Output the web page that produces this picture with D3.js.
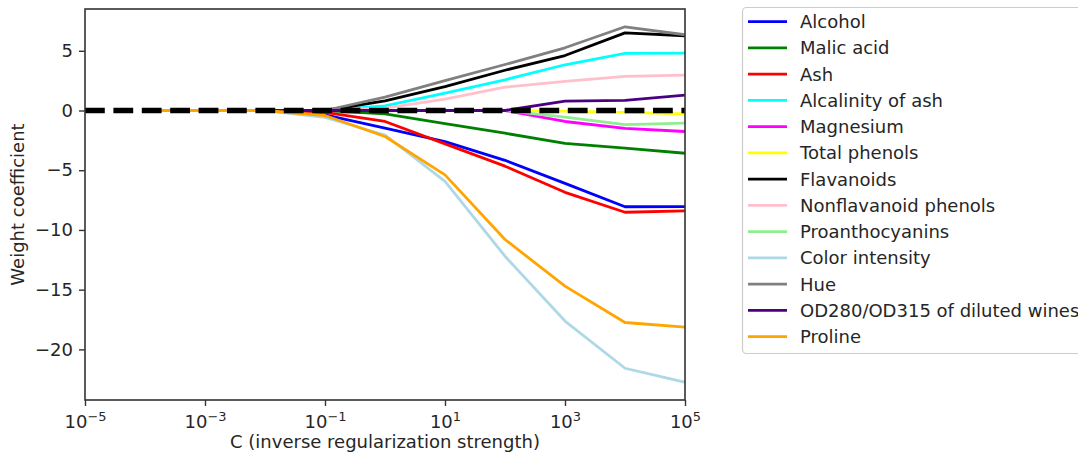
<!DOCTYPE html>
<html><head><meta charset="utf-8">
<script src="https://cdn.jsdelivr.net/npm/d3@7"></script>
<style>
body{margin:0;background:#fff}
svg{display:block}
text{font-family:"DejaVu Sans",sans-serif;fill:#262626}
</style>
</head><body>
<svg id="chart" width="1078" height="455"></svg>
<script>
// inverse regularization strengths C = 10^-4 ... 10^5
const cValues = [1e-4, 1e-3, 1e-2, 1e-1, 1e0, 1e1, 1e2, 1e3, 1e4, 1e5];
const featureNames = ["Alcohol", "Malic acid", "Ash", "Alcalinity of ash", "Magnesium",
  "Total phenols", "Flavanoids", "Nonflavanoid phenols", "Proanthocyanins",
  "Color intensity", "Hue", "OD280/OD315 of diluted wines", "Proline"];
const featureColors = ["blue", "green", "red", "cyan", "magenta", "yellow", "black",
  "pink", "lightgreen", "lightblue", "gray", "indigo", "orange"];
const alcohol        = [0, 0, 0, -0.36, -1.47, -2.60, -4.17, -6.10, -8.06, -8.04];
const malicAcid      = [0, 0, 0, 0, -0.28, -1.10, -1.90, -2.76, -3.15, -3.58];
const ash            = [0, 0, 0, -0.15, -0.92, -2.79, -4.66, -6.85, -8.52, -8.40];
const alcalinity     = [0, 0, 0, 0, 0.39, 1.45, 2.57, 3.83, 4.78, 4.80];
const magnesium      = [0, 0, 0, 0, 0, 0, 0, -0.92, -1.50, -1.76];
const totalPhenols   = [0, 0, 0, 0, 0, 0, 0, -0.05, -0.15, -0.28];
const flavanoids     = [0, 0, 0, 0, 0.81, 2.00, 3.37, 4.60, 6.50, 6.26];
const nonflavanoid   = [0, 0, 0, 0, 0.20, 0.95, 1.95, 2.43, 2.85, 2.96];
const proanthocyanins= [0, 0, 0, 0, 0, 0, 0, -0.55, -1.18, -1.06];
const colorIntensity = [0, 0, 0, -0.58, -2.05, -5.94, -12.20, -17.63, -21.58, -22.75];
const hue            = [0, 0, 0, 0, 1.12, 2.50, 3.85, 5.25, 7.01, 6.34];
const od280          = [0, 0, 0, 0, 0, 0, 0, 0.78, 0.85, 1.28];
const proline        = [0, 0, 0, -0.42, -2.18, -5.39, -10.80, -14.70, -17.75, -18.14];
const weights = [alcohol, malicAcid, ash, alcalinity, magnesium, totalPhenols, flavanoids,
  nonflavanoid, proanthocyanins, colorIntensity, hue, od280, proline];
const xTickExps = [-5, -3, -1, 1, 3, 5];
const yTicks = [5, 0, -5, -10, -15, -20];

const svg = d3.select("#chart");
const L = 85, R = 685, T = 9, B = 400;
const FS = 18;

const x = d3.scaleLog().domain([1e-5, 1e5]).range([L, R]);
const all = weights.flat();
const lo = d3.min(all), hi = d3.max(all), pad = 0.05 * (hi - lo);
const y = d3.scaleLinear().domain([lo - pad, hi + pad]).range([B, T]);

svg.append("defs").append("clipPath").attr("id", "plotclip")
  .append("rect").attr("x", L).attr("y", T).attr("width", R - L).attr("height", B - T);

const plot = svg.append("g").attr("clip-path", "url(#plotclip)");
const line = d3.line().x((d, i) => x(cValues[i])).y(d => y(d));
weights.forEach((w, k) => {
  plot.append("path").datum(w).attr("d", line)
    .attr("fill", "none").attr("stroke", featureColors[k])
    .attr("stroke-width", 2.8).attr("stroke-linejoin", "round").attr("stroke-linecap", "square");
});
plot.append("line").attr("x1", L).attr("x2", R).attr("y1", y(0)).attr("y2", y(0))
  .attr("stroke", "black").attr("stroke-width", 5.5).attr("stroke-dasharray", "19.8 8.6");

// axes
const xAxis = d3.axisBottom(x).tickValues(xTickExps.map(e => Math.pow(10, e)))
  .tickSize(6).tickPadding(6).tickFormat("");
const gx = svg.append("g").attr("transform", `translate(0,${B})`).call(xAxis);
gx.select(".domain").remove();
gx.selectAll(".tick line").attr("stroke", "#333").attr("stroke-width", 1.4);
gx.selectAll(".tick").each(function(d) {
  const e = Math.round(Math.log10(d));
  const t = d3.select(this).append("text").attr("y", 28).attr("text-anchor", "middle")
    .style("font-size", FS + "px");
  t.append("tspan").text("10");
  t.append("tspan").attr("dy", -7).style("font-size", (FS * 0.72) + "px")
    .text((e < 0 ? "\u2212" : "") + Math.abs(e));
});

const yAxis = d3.axisLeft(y).tickValues(yTicks).tickSize(6).tickPadding(6)
  .tickFormat(d => d < 0 ? "\u2212" + Math.abs(d) : String(d));
const gy = svg.append("g").attr("transform", `translate(${L},0)`).call(yAxis);
gy.select(".domain").remove();
gy.selectAll(".tick line").attr("stroke", "#333").attr("stroke-width", 1.4);
gy.selectAll(".tick text").style("font-size", FS + "px").attr("fill", "#262626")
  .style("font-family", '"DejaVu Sans",sans-serif');

svg.append("rect").attr("x", L).attr("y", T).attr("width", R - L).attr("height", B - T)
  .attr("fill", "none").attr("stroke", "#333").attr("stroke-width", 1.6);

svg.append("text").attr("x", (L + R) / 2).attr("y", 448).attr("text-anchor", "middle")
  .style("font-size", FS + "px").text("C (inverse regularization strength)");
svg.append("text").attr("transform", `translate(24,${(T + B) / 2}) rotate(-90)`)
  .attr("text-anchor", "middle").style("font-size", FS + "px").text("Weight coefficient");

// legend
const lg = svg.append("g");
lg.append("rect").attr("x", 742.5).attr("y", 7.5).attr("width", 360).attr("height", 346)
  .attr("rx", 4).attr("fill", "white").attr("stroke", "#cccccc").attr("stroke-width", 1.2);
featureNames.forEach((n, k) => {
  const cy = 21.7 + k * 26.25;
  lg.append("line").attr("x1", 748).attr("x2", 787).attr("y1", cy).attr("y2", cy)
    .attr("stroke", featureColors[k]).attr("stroke-width", 2.8);
  lg.append("text").attr("x", 800).attr("y", cy).attr("dy", "0.36em")
    .style("font-size", FS + "px").text(n);
});
</script>
</body></html>
